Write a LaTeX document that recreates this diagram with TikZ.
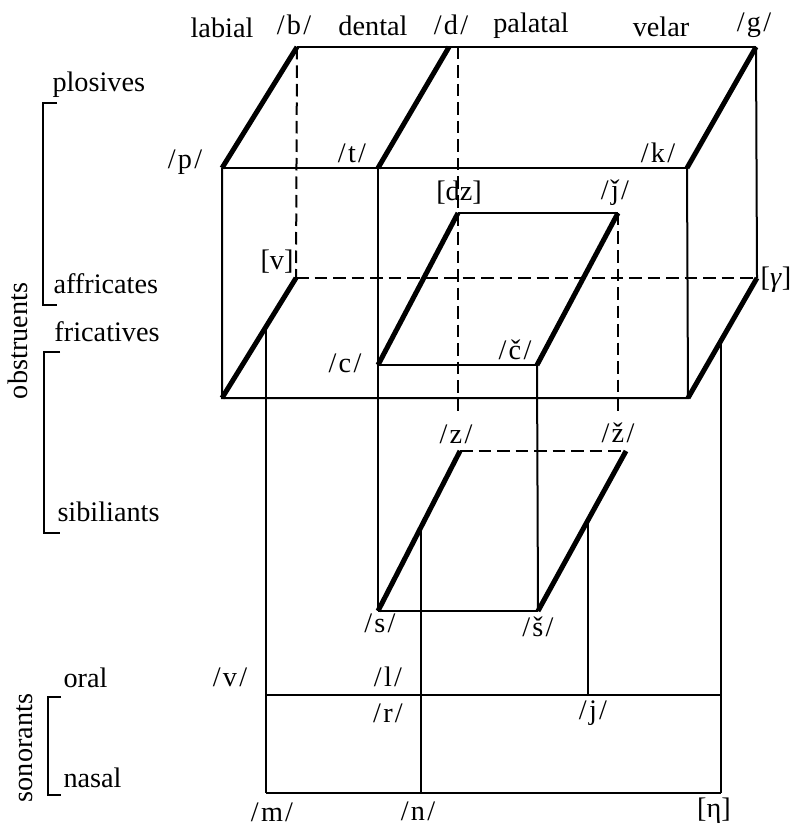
\documentclass[tikz,border=0pt]{standalone}
\usepackage{fontspec}
\setmainfont{Liberation Serif}
\usetikzlibrary{calc}
\newcommand{\phon}[1]{/\kern0.9pt#1\kern0.9pt/}

\begin{document}
\begin{tikzpicture}[x=0.4pt,y=-0.4pt,
  thinline/.style={line width=0.8pt},
  thickline/.style={line width=2pt},
  hidden/.style={line width=0.8pt,dash pattern=on 5pt off 2.4pt},
  lbl/.style={inner sep=0pt,font=\fontsize{11.3}{13}\selectfont},
  cat/.style={lbl,anchor=base west},
  brk/.style={line width=0.8pt},
]
\useasboundingbox[fill=white] (0,0) rectangle (791,825);

% Corners of the outer box (plosives on top, fricatives below)
\coordinate (B) at (297,47);
\coordinate (D) at (449,47);
\coordinate (G) at (756,47);
\coordinate (P) at (222,168);
\coordinate (T) at (378,168);
\coordinate (K) at (687,168);
\coordinate (V) at (296,278);
\coordinate (Gm) at (757,278);
\coordinate (F1) at (222,398);
\coordinate (F2) at (688,398);

% Affricates
\coordinate (Dz) at (458,213);
\coordinate (Jc) at (618,213);
\coordinate (C) at (378,365);
\coordinate (Cc) at (537,365);

% Sibilants
\coordinate (Z) at (460,451);
\coordinate (Zc) at (626,451);
\coordinate (S) at (378,611);
\coordinate (Sc) at (538,611);

% Ends of the dashed drops
\coordinate (Dtop) at (Dz |- D);
\coordinate (Dbot) at (458,413);
\coordinate (Jbot) at (618,413);

% Sonorants
\coordinate (Lab) at ($(F1)!0.6!(V)$);
\coordinate (Vel) at ($(F2)!0.48!(Gm)$);
\coordinate (Den) at ($(S)!0.52!(Z)$);
\coordinate (Pal) at ($(Sc)!0.57!(Zc)$);
\coordinate (Or1) at (Lab |- 0,695);
\coordinate (Or2) at (Vel |- 0,695);
\coordinate (J) at (Pal |- 0,695);
\coordinate (M) at (Lab |- 0,793);
\coordinate (N) at (Den |- 0,793);
\coordinate (Ng) at (Vel |- 0,793);

% Outer box
\draw[thinline] (B) -- (G);
\draw[thinline] (P) -- (K);
\draw[thickline] (P) -- (B);
\draw[thickline] (T) -- (D);
\draw[thickline] (K) -- (G);
\draw[thinline] (P) -- (F1) -- (F2) -- (K);
\draw[thinline] (G) -- (Gm);
\draw[hidden] (B) -- (V);
\draw[hidden] (V) -- (Gm);
\draw[thickline] (F1) -- (V);
\draw[thickline] (F2) -- (Gm);

% Dental and palatal columns
\draw[thinline] (T) -- (S);
\draw[thinline] (Cc) -- (Sc);
\draw[hidden] (Dtop) -- (Dbot);
\draw[hidden] (Jc) -- (Jbot);

% Affricate face
\draw[thinline] (Dz) -- (Jc);
\draw[thinline] (C) -- (Cc);
\draw[thickline] (C) -- (Dz);
\draw[thickline] (Cc) -- (Jc);

% Sibilant face
\draw[hidden] (Z) -- (Zc);
\draw[thinline] (S) -- (Sc);
\draw[thickline] (S) -- (Z);
\draw[thickline] (Sc) -- (Zc);

% Sonorant frame
\draw[thinline] (Lab) -- (M);
\draw[thinline] (Vel) -- (Ng);
\draw[thinline] (Den) -- (N);
\draw[thinline] (Pal) -- (J);
\draw[thinline] (Or1) -- (Or2);
\draw[thinline] (M) -- (Ng);

% Places of articulation
\node[lbl] (labial) at (222,28) {labial};
\node[lbl] (dental) at (373,26) {dental};
\node[lbl] (palatal) at (531,26) {palatal};
\node[lbl] (velar) at (661,27) {velar};

% Phonemes
\node[lbl] (b) at (294,25) {\phon{b}};
\node[lbl] (d) at (451,25) {\phon{d}};
\node[lbl] (g) at (754,25) {\phon{g}};
\node[lbl] (p) at (185,162) {\phon{p}};
\node[lbl] (t) at (352,153) {\phon{t}};
\node[lbl] (k) at (658,153) {\phon{k}};
\node[lbl] (v) at (277,262) {[v]};
\node[lbl] (gam) at (776,280) {[\textit{γ}]};
\node[lbl] (dz) at (459,193) {[dz]};
\node[lbl] (jc) at (615,193) {\phon{ǰ}};
\node[lbl] (c) at (345,363) {\phon{c}};
\node[lbl] (cc) at (515,350) {\phon{č}};
\node[lbl] (z) at (456,434) {\phon{z}};
\node[lbl] (zc) at (618,433) {\phon{ž}};
\node[lbl] (s) at (380,623) {\phon{s}};
\node[lbl] (sc) at (538,627) {\phon{š}};
\node[lbl] (vs) at (230,677) {\phon{v}};
\node[lbl] (l) at (388,677) {\phon{l}};
\node[lbl] (r) at (388,713) {\phon{r}};
\node[lbl] (j) at (593,713) {\phon{j}};
\node[lbl] (m) at (272,812) {\phon{m}};
\node[lbl] (n) at (418,811) {\phon{n}};
\node[lbl] (ng) at (714,811) {[η]};

% Manner of articulation
\node[cat] (plos) at (52,92) {plosives};
\node[cat] (affr) at (53,293) {affricates};
\node[cat] (fric) at (54,341) {fricatives};
\node[cat] (sib) at (57,521) {sibiliants};
\node[cat] (oral) at (63,687) {oral};
\node[cat] (nasal) at (63,787) {nasal};
\node[lbl,rotate=90] (obs) at (18,341) {obstruents};
\node[lbl,rotate=90] (son) at (25,748) {sonorants};

% Brackets
\draw[brk] (57,103) -| (43,305) -- (57,305);
\draw[brk] (60,352) -| (44,533) -- (60,533);
\draw[brk] (61,697) -| (48,795) -- (61,795);
\end{tikzpicture}
\end{document}
